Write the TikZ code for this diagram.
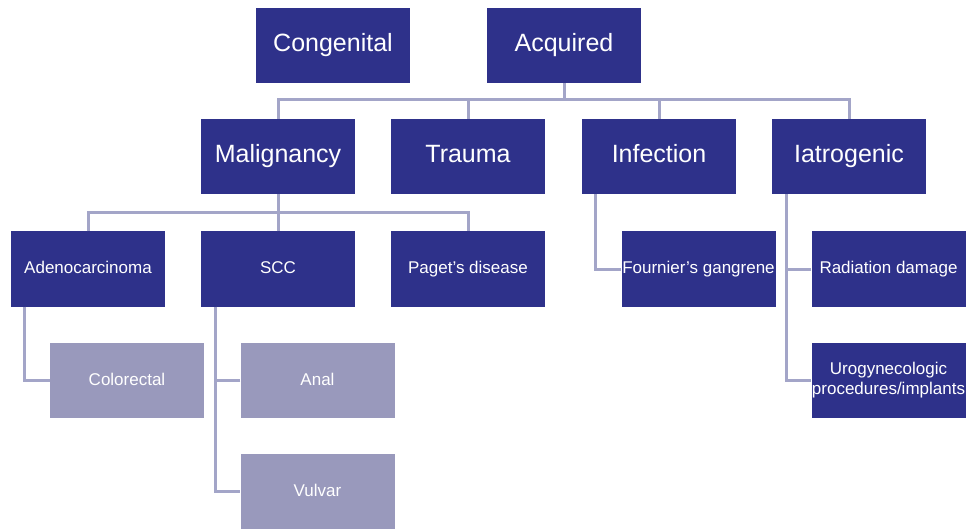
\documentclass[tikz,border=0pt]{standalone}
\usepackage{fontspec}
\setmainfont{Liberation Sans}
\definecolor{dkbox}{RGB}{46,49,138}
\definecolor{ltbox}{RGB}{153,153,188}
\definecolor{conn}{RGB}{163,165,200}
\begin{document}
\begin{tikzpicture}[x=1pt,y=-1pt,
  box/.style={rectangle, inner sep=0pt, minimum width=154pt, minimum height=75pt, text=white, align=center},
  dk/.style={box, fill=dkbox},
  lt/.style={box, fill=ltbox},
  big/.style={font=\fontsize{25}{30}\selectfont, text height=18pt, text depth=5pt},
  small/.style={font=\fontsize{17}{20}\selectfont, text height=12.5pt, text depth=3.5pt},
  multi/.style={font=\fontsize{17}{20}\selectfont},
  link/.style={draw=conn, line width=3pt}]
\useasboundingbox (0,0) rectangle (968,529);
% row 1
\node[dk,big] (con) at (333,45.5) {Congenital};
\node[dk,big] (acq) at (564,45.5) {Acquired};
% row 2
\node[dk,big] (mal) at (278,156.5) {Malignancy};
\node[dk,big] (tra) at (468,156.5) {Trauma};
\node[dk,big] (inf) at (659,156.5) {Infection};
\node[dk,big] (iat) at (849,156.5) {Iatrogenic};
% row 3
\node[dk,small] (ade) at (88,269) {Adenocarcinoma};
\node[dk,small] (scc) at (278,269) {SCC};
\node[dk,small] (pag) at (468,269) {Paget’s disease};
\node[dk,small] (fou) at (698.5,269) {Fournier’s gangrene};
\node[dk,small] (rad) at (888.5,269) {Radiation damage};
% row 4
\node[lt,small] (col) at (127,380.5) {Colorectal};
\node[lt,small] (ana) at (317.5,380.5) {Anal};
\node[lt,small] (vul) at (317.5,491.5) {Vulvar};
\node[dk,multi] (uro) at (888.5,380.5) {Urogynecologic\\procedures/implants};
% connectors
\coordinate (h1) at (564,100);
\draw[link] (acq.south) -- (h1);
\draw[link] (mal.north) |- (h1) -| (iat.north);
\draw[link] (tra.north) -- (tra.north |- h1);
\draw[link] (inf.north) -- (inf.north |- h1);
\coordinate (h2) at (278,213);
\draw[link] (mal.south) -- (h2);
\draw[link] (ade.north) |- (h2) -| (pag.north);
\draw[link] (scc.north) -- (h2);
\coordinate (va) at ([xshift=14pt]ade.south west);
\draw[link] (va) |- (col.west);
\coordinate (vs) at ([xshift=15pt]scc.south west);
\draw[link] (vs) |- (vul.west);
\draw[link] (ana.west) -- (ana.west -| vs);
\coordinate (vi) at ([xshift=14pt]inf.south west);
\draw[link] (vi) |- (fou.west);
\coordinate (vt) at ([xshift=15pt]iat.south west);
\draw[link] (vt) |- (uro.west);
\draw[link] (rad.west) -- (rad.west -| vt);
\end{tikzpicture}
\end{document}
